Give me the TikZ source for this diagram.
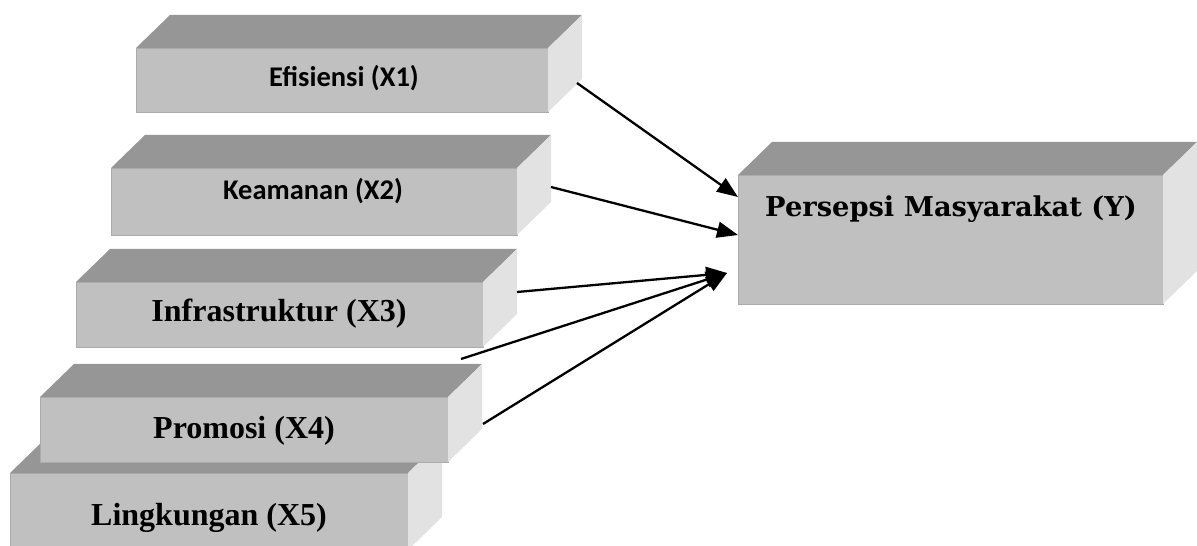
\documentclass[tikz,border=0pt]{standalone}
\usepackage{fontspec}
\setmainfont{Liberation Serif}
\newfontfamily\calfont{Carlito}
\newfontfamily\djserif{DejaVu Serif}
\usetikzlibrary{arrows.meta,calc}
\definecolor{frontc}{HTML}{C0C0C0}
\definecolor{topc}{HTML}{969696}
\definecolor{sidec}{HTML}{E2E2E2}
\definecolor{edgec}{HTML}{ABABAB}
\tikzset{
  frontbox/.style={fill=frontc, draw=edgec, line width=0.8bp, inner sep=0pt, outer sep=0pt, anchor=north west},
  topface/.style={fill=topc},
  sideface/.style={fill=sidec},
  arr/.style={line width=2.3bp, -{Triangle[length=21bp,width=16bp]}},
  sanslbl/.style={font=\calfont\bfseries\fontsize{28.5bp}{30bp}\selectfont, anchor=base, inner sep=0pt},
  seriflbl/.style={font=\bfseries\fontsize{32bp}{34bp}\selectfont, anchor=base, inner sep=0pt},
  ylbl/.style={font=\djserif\bfseries\fontsize{27.3bp}{29bp}\selectfont, anchor=base, inner sep=0pt}
}
\newcommand\boxfaces[1]{%
  \fill[topface] (#1.north west) -- ++(34,-33) -- ($(#1.north east)+(34,-33)$) -- (#1.north east) -- cycle;
  \fill[sideface] (#1.north east) -- ++(34,-33) -- ($(#1.south east)+(34,-33)$) -- (#1.south east) -- cycle;
}
\begin{document}
\begin{tikzpicture}[x=1bp,y=-1bp]
\useasboundingbox (0,0) rectangle (1197,546);
\clip (0,0) rectangle (1197,546);
% X5
\node[frontbox, minimum width=398bp, minimum height=77bp] (b5) at (10,473) {};
\boxfaces{b5}
% X4
\node[frontbox, minimum width=408bp, minimum height=65bp] (b4) at (40,397) {};
\boxfaces{b4}
% X3
\node[frontbox, minimum width=407bp, minimum height=65bp] (b3) at (76,282) {};
\boxfaces{b3}
% X2
\node[frontbox, minimum width=406bp, minimum height=67bp] (b2) at (111,168) {};
\boxfaces{b2}
% X1
\node[frontbox, minimum width=412bp, minimum height=64bp] (b1) at (136,48) {};
\boxfaces{b1}
% Y
\node[frontbox, minimum width=425bp, minimum height=129bp] (by) at (738,175) {};
\boxfaces{by}
% labels
\node[sanslbl] (t1) at (344,87) {Efisiensi (X1)};
\node[sanslbl] (t2) at (313,200) {Keamanan (X2)};
\node[seriflbl] (t3) at (279,322) {Infrastruktur (X3)};
\node[seriflbl] (t4) at (244,438) {Promosi (X4)};
\node[seriflbl] (t5) at (209,525) {Lingkungan (X5)};
\node[ylbl] (ty) at (951,217) {Persepsi Masyarakat (Y)};
% connector ends
\coordinate (s1) at (577,83);
\coordinate (s2) at (551,187);
\coordinate (s3) at (517,292);
\coordinate (s4) at (461,359);
\coordinate (s5) at (483,424);
\coordinate (e1) at (738,197);
\coordinate (e2) at (738,235);
\coordinate (e3) at (727,273);
\draw[arr] (s1) -- (e1);
\draw[arr] (s2) -- (e2);
\draw[arr] (s3) -- (e3);
\draw[arr] (s4) -- (e3);
\draw[arr] (s5) -- (e3);
\end{tikzpicture}
\end{document}
